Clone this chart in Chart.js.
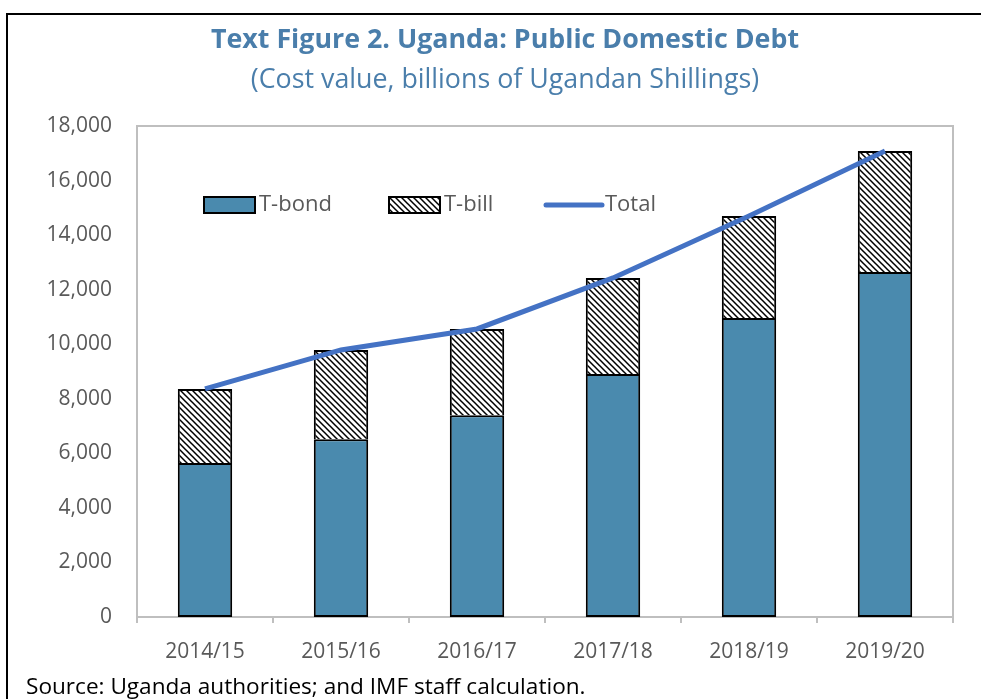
<!DOCTYPE html>
<html>
<head>
<meta charset="utf-8">
<script src="https://cdn.jsdelivr.net/npm/chart.js@4/dist/chart.umd.min.js"></script>
<style>
  html, body { margin: 0; padding: 0; background: #fff; }
  body { width: 981px; height: 699px; position: relative; overflow: hidden; font-family: "Open Sans", "Noto Sans", sans-serif; }
  #frame { position: absolute; left: 6px; top: 13px; width: 1000px; height: 720px; border: 2px solid #000; box-sizing: border-box; }
  #wrap { position: absolute; left: 0; top: 0; width: 981px; height: 699px; }
  .title { position: absolute; left: 0; width: 1010px; text-align: center; color: #4a7eab; white-space: nowrap; }
  #t1 { top: 19px; font-size: 26.8px; font-weight: bold; }
  #t2 { top: 59px; font-size: 26.8px; }
  #src { position: absolute; left: 26px; top: 670px; font-size: 22.6px; color: #000; white-space: nowrap; }
</style>
</head>
<body>
<div id="frame"></div>
<div id="wrap"><canvas id="debtChart" width="981" height="699"></canvas></div>
<div class="title" id="t1">Text Figure 2. Uganda: Public Domestic Debt</div>
<div class="title" id="t2">(Cost value, billions of Ugandan Shillings)</div>
<div id="src">Source: Uganda authorities; and IMF staff calculation.</div>
<script>
const years = ['2014/15', '2015/16', '2016/17', '2017/18', '2018/19', '2019/20'];
const tBond = [5650, 6520, 7400, 8910, 10960, 12650];
const tBill = [2710, 3270, 3160, 3520, 3740, 4430];
const total = [8360, 9790, 10560, 12430, 14700, 17080];

const bondColor = '#4a8aae';
const lineColor = '#4472c4';
const fontFamily = '"Open Sans", "Noto Sans", sans-serif';

// diagonal hatch used for the T-bill segments
function hatchPattern() {
    const c = document.createElement('canvas');
    c.width = 6; c.height = 6;
    const g = c.getContext('2d');
    g.fillStyle = '#fff';
    g.fillRect(0, 0, 6, 6);
    g.strokeStyle = '#000';
    g.lineWidth = 1.5;
    g.beginPath();
    g.moveTo(-1, -1); g.lineTo(7, 7);
    g.moveTo(-4, 2); g.lineTo(1, 7);
    g.moveTo(5, -1); g.lineTo(8, 2);
    g.stroke();
    return g.createPattern(c, 'repeat');
}
const hatch = hatchPattern();

// grey frame around the plot area
const plotFrame = {
    id: 'plotFrame',
    beforeDatasetsDraw(chart) {
        const a = chart.chartArea, ctx = chart.ctx;
        ctx.save();
        ctx.strokeStyle = '#bfbfbf';
        ctx.lineWidth = 2;
        ctx.strokeRect(a.left, a.top, a.right - a.left, a.bottom - a.top);
        ctx.restore();
    }
};

// legend sits inside the plot, near the top
const innerLegend = {
    id: 'innerLegend',
    afterDraw(chart) {
        const a = chart.chartArea, ctx = chart.ctx;
        const y = a.top + 79;
        ctx.save();
        ctx.font = '22px ' + fontFamily;
        ctx.textBaseline = 'middle';
        ctx.lineWidth = 2;
        ctx.strokeStyle = '#000';

        let x = a.left + 67;
        ctx.fillStyle = bondColor;
        ctx.fillRect(x, y - 8, 51, 16);
        ctx.strokeRect(x, y - 8, 51, 16);
        ctx.fillStyle = '#595959';
        ctx.fillText('T-bond', x + 55, y);

        x = a.left + 252;
        ctx.fillStyle = hatch;
        ctx.fillRect(x, y - 8, 51, 16);
        ctx.strokeRect(x, y - 8, 51, 16);
        ctx.fillStyle = '#595959';
        ctx.fillText('T-bill', x + 55, y);

        x = a.left + 409;
        ctx.strokeStyle = lineColor;
        ctx.lineWidth = 5;
        ctx.lineCap = 'round';
        ctx.beginPath();
        ctx.moveTo(x, y); ctx.lineTo(x + 56, y);
        ctx.stroke();
        ctx.fillText('Total', x + 59, y);
        ctx.restore();
    }
};

new Chart(document.getElementById('debtChart'), {
    data: {
        labels: years,
        datasets: [
            {
                type: 'line',
                label: 'Total',
                data: total,
                stack: 'total',
                borderColor: lineColor,
                borderWidth: 5,
                pointRadius: 0,
                tension: 0,
                order: 0
            },
            {
                type: 'bar',
                label: 'T-bond',
                data: tBond,
                stack: 'debt',
                backgroundColor: bondColor,
                borderColor: '#000',
                borderWidth: 2,
                borderSkipped: false,
                barPercentage: 0.4,
                categoryPercentage: 1,
                order: 1
            },
            {
                type: 'bar',
                label: 'T-bill',
                data: tBill,
                stack: 'debt',
                backgroundColor: hatch,
                borderColor: '#000',
                borderWidth: { top: 2, left: 2, right: 2, bottom: 0 },
                borderSkipped: false,
                barPercentage: 0.4,
                categoryPercentage: 1,
                order: 1
            }
        ]
    },
    options: {
        responsive: false,
        animation: false,
        layout: { padding: { top: 126, right: 28, left: 0, bottom: 0 } },
        plugins: {
            legend: { display: false },
            tooltip: { enabled: false }
        },
        scales: {
            x: {
                stacked: true,
                afterFit(s) { s.height = 82; },
                grid: { drawOnChartArea: false, drawTicks: true, tickLength: 6, color: '#bfbfbf', lineWidth: 2, offset: true },
                border: { display: false },
                ticks: { color: '#595959', font: { family: fontFamily, size: 21 }, padding: 16 }
            },
            y: {
                stacked: true,
                min: 0,
                max: 18000,
                afterFit(s) { s.width = 137; },
                grid: { display: false },
                border: { display: false },
                ticks: {
                    stepSize: 2000,
                    color: '#595959',
                    padding: 17,
                    font: { family: fontFamily, size: 21 },
                    callback: v => v.toLocaleString('en-US')
                }
            }
        }
    },
    plugins: [plotFrame, innerLegend]
});
</script>
</body>
</html>
